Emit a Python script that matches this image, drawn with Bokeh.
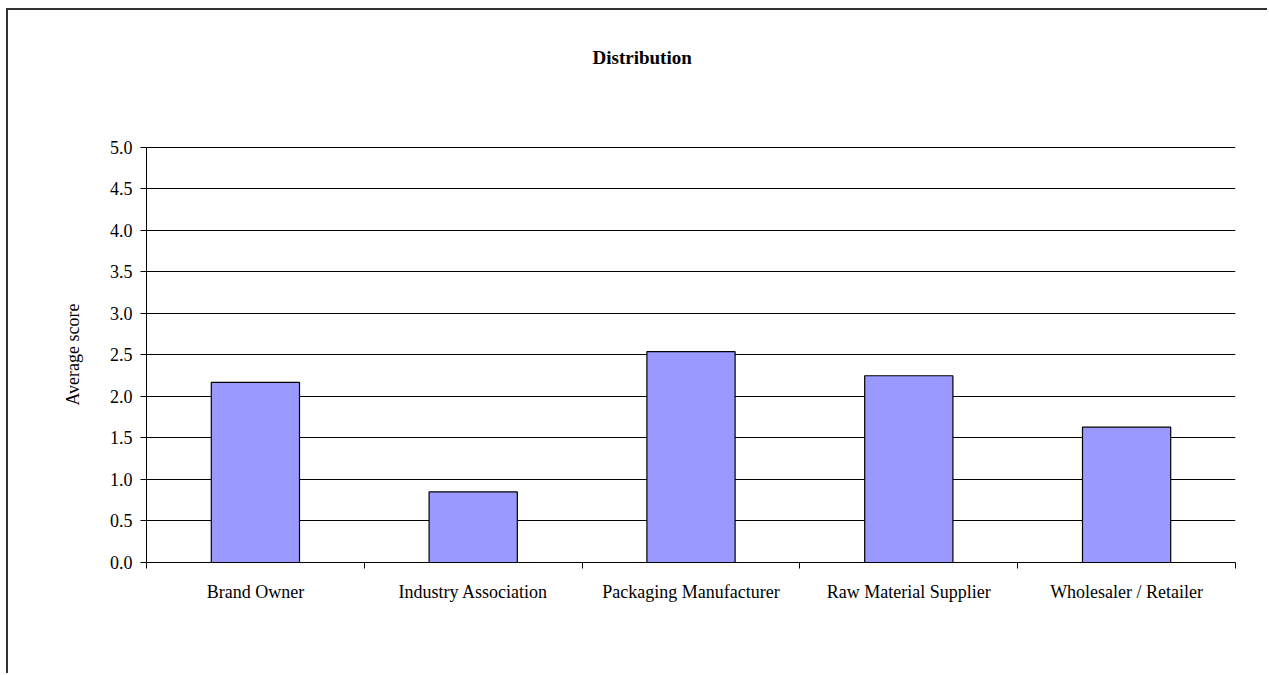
from bokeh.plotting import figure
from bokeh.models import FixedTicker, PrintfTickFormatter, Range1d, Title
from bokeh.embed import file_html
from bokeh.resources import INLINE

categories = ["Brand Owner", "Industry Association", "Packaging Manufacturer",
              "Raw Material Supplier", "Wholesaler / Retailer"]
scores = [2.17, 0.85, 2.54, 2.25, 1.63]
y_ticks = [0.0, 0.5, 1.0, 1.5, 2.0, 2.5, 3.0, 3.5, 4.0, 4.5, 5.0]
title_text = "Distribution"
y_label = "Average score"

FONT = "Liberation Serif"

positions = [i + 0.5 for i in range(len(categories))]
boundaries = list(range(len(categories) + 1))

p = figure(width=1261, height=665, output_backend="svg", toolbar_location=None,
           x_range=Range1d(0, len(categories)),
           y_range=Range1d(y_ticks[0], y_ticks[-1] + 0.012),
           min_border_left=138, min_border_right=34, min_border_top=136, min_border_bottom=113)
p.margin = (8, 0, 0, 6)
p.styles = {"border-left": "2px solid #333333", "border-top": "2px solid #333333"}
p.outline_line_color = None
p.background_fill_color = "white"
p.border_fill_color = "white"

p.vbar(x=positions, top=scores, width=0.405, fill_color="#9999FF",
       line_color="black", line_width=1.2)

p.xgrid.visible = False
p.ygrid.ticker = FixedTicker(ticks=y_ticks)
p.ygrid.grid_line_color = "black"
p.ygrid.grid_line_width = 1

xa = p.xaxis[0]
xa.ticker = FixedTicker(ticks=positions, minor_ticks=boundaries)
xa.major_label_overrides = {pos: name for pos, name in zip(positions, categories)}
xa.major_tick_line_color = None
xa.major_tick_out = 0
xa.major_tick_in = 0
xa.minor_tick_line_color = "black"
xa.minor_tick_out = 6
xa.minor_tick_in = 0
xa.axis_line_color = "black"
xa.major_label_standoff = 13
xa.major_label_text_font = FONT
xa.major_label_text_font_size = "18px"
xa.major_label_text_color = "black"

ya = p.yaxis[0]
ya.ticker = FixedTicker(ticks=y_ticks)
ya.bounds = (y_ticks[0], y_ticks[-1])
ya.formatter = PrintfTickFormatter(format="%.1f")
ya.major_tick_out = 6
ya.major_tick_in = 0
ya.minor_tick_line_color = None
ya.axis_line_color = "black"
ya.major_tick_line_color = "black"
ya.major_label_standoff = 8
ya.major_label_text_font = FONT
ya.major_label_text_font_size = "18px"
ya.major_label_text_color = "black"
ya.axis_label = y_label
ya.axis_label_text_font = FONT
ya.axis_label_text_font_size = "18px"
ya.axis_label_text_font_style = "normal"
ya.axis_label_text_color = "black"
ya.axis_label_standoff = 24

# spacer (closest to the frame), then the real title above it
p.add_layout(Title(text=" ", text_font_size="10px", standoff=66), "above")
p.add_layout(Title(text=title_text, text_font=FONT, text_font_size="19px",
                   text_font_style="bold", text_color="black",
                   align="left", offset=446, standoff=0), "above")

open("out.html", "w").write(file_html(p, INLINE))
